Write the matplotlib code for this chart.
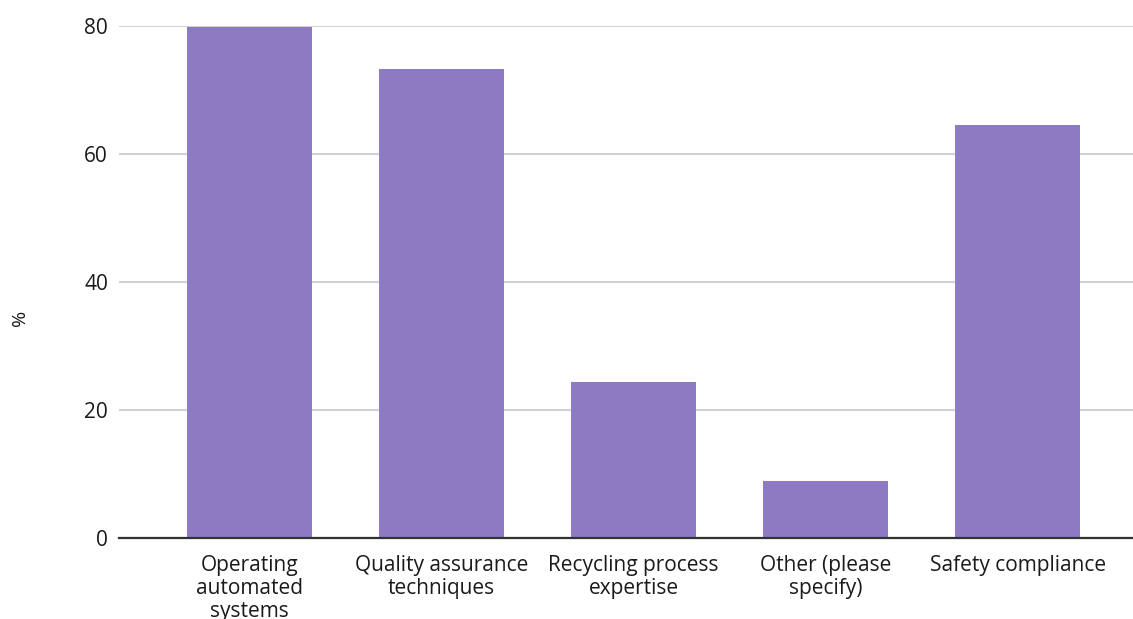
import matplotlib
matplotlib.use('Agg')
import matplotlib.pyplot as plt

categories = [
    'Operating\nautomated\nsystems',
    'Quality assurance\ntechniques',
    'Recycling process\nexpertise',
    'Other (please\nspecify)',
    'Safety compliance',
]
percent = [79.9, 73.3, 24.4, 8.9, 64.5]
y_ticks = [0, 20, 40, 60, 80]

BAR_COLOR = '#8e7ac2'
TEXT_COLOR = '#1a1a1a'

plt.rcParams['font.family'] = ['Open Sans', 'DejaVu Sans']

fig = plt.figure(figsize=(11.33, 6.19), dpi=100)
ax = fig.add_axes([119 / 1133, 81 / 619, 1 - 119 / 1133, (538 - 26) / 619])

x = range(len(categories))
ax.bar(x, percent, width=0.65, color=BAR_COLOR, zorder=2)

ax.set_xlim(-0.68, 4.60)
ax.set_ylim(0, 80)
ax.set_yticks(y_ticks)
ax.set_xticks(list(x))
ax.set_xticklabels(categories, fontsize=15, linespacing=1.15, color=TEXT_COLOR)
ax.tick_params(axis='y', labelsize=15, length=0, pad=8, labelcolor=TEXT_COLOR)
ax.tick_params(axis='x', length=0, pad=12)

ax.grid(axis='y', color='#c8c8c8', linewidth=1.2, zorder=0)
ax.set_axisbelow(True)
for side in ('top', 'right', 'left'):
    ax.spines[side].set_visible(False)
ax.spines['bottom'].set_color('#333333')
ax.spines['bottom'].set_linewidth(1.6)
ax.spines['bottom'].set_zorder(3)

fig.text(20 / 1133, 1 - 318 / 619, '%', rotation=90, ha='center', va='center',
         fontsize=14, color=TEXT_COLOR)

fig.savefig('out.png', dpi=100, facecolor='white')
